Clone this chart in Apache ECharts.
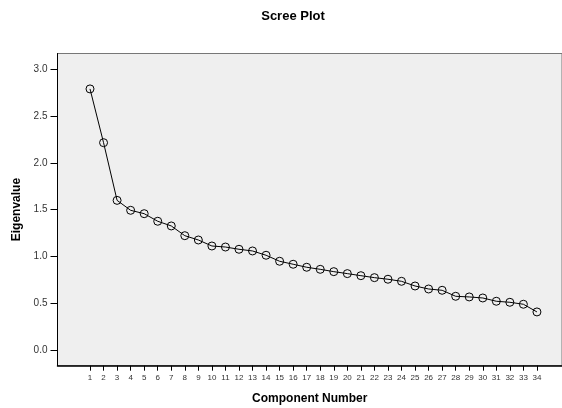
<!DOCTYPE html>
<html>
<head>
<meta charset="utf-8">
<script src="https://cdn.jsdelivr.net/npm/echarts@6/dist/echarts.min.js"></script>
<style>html,body{margin:0;padding:0;background:#fff}#c{width:562px;height:408px}</style>
</head>
<body>
<div id="c"></div>
<script>
var components = [1,2,3,4,5,6,7,8,9,10,11,12,13,14,15,16,17,18,19,20,21,22,23,24,25,26,27,28,29,30,31,32,33,34];
var eigenvalues = [2.79,2.216,1.60,1.494,1.458,1.377,1.327,1.223,1.177,1.113,1.102,1.078,1.060,1.014,0.950,0.918,0.886,0.864,0.839,0.818,0.796,0.775,0.758,0.736,0.686,0.654,0.640,0.576,0.569,0.558,0.523,0.512,0.491,0.409];
var yTicks = [0,0.5,1,1.5,2,2.5,3];

var chart = echarts.init(document.getElementById('c'), null, {renderer:'canvas'});
var font = '"Liberation Sans", Arial, sans-serif';
chart.setOption({
  animation:false,
  backgroundColor:'#ffffff',
  title:{text:'Scree Plot', left:288, top:5, textAlign:'center',
    textStyle:{fontFamily:font, fontSize:13, fontWeight:'bold', color:'#000'}},
  grid:{left:57.5, top:53.5, right:0, bottom:42.3, containLabel:false, outerBoundsMode:'none',
    show:true, backgroundColor:'#efefef', borderColor:'#777', borderWidth:1},
  xAxis:{type:'value', min:-1.4, max:35.85,
    name:'Component Number', nameLocation:'middle', nameGap:27,
    nameTextStyle:{fontFamily:font, fontSize:12, fontWeight:'bold', color:'#000'},
    axisLine:{show:true, onZero:false, lineStyle:{color:'#000', width:1.5}},
    axisTick:{show:true, length:5, customValues:components, lineStyle:{color:'#000'}},
    axisLabel:{customValues:components, fontFamily:font, fontSize:8, color:'#333', margin:8},
    splitLine:{show:false}},
  yAxis:{type:'value', min:-0.165, max:3.168,
    name:'Eigenvalue', nameLocation:'middle', nameGap:34, nameRotate:90,
    nameTextStyle:{fontFamily:font, fontSize:12, fontWeight:'bold', color:'#000'},
    axisLine:{show:true, onZero:false, lineStyle:{color:'#000', width:1}},
    axisTick:{show:true, length:7, customValues:yTicks, lineStyle:{color:'#000'}},
    axisLabel:{customValues:yTicks, fontFamily:font, fontSize:10, color:'#333', margin:10,
      formatter:function(v){return v.toFixed(1);}},
    splitLine:{show:false}},
  series:[{type:'line', data:components.map(function(c,i){return [c, eigenvalues[i]];}),
    symbol:'circle', symbolSize:8, showAllSymbol:true,
    lineStyle:{color:'#000', width:1},
    itemStyle:{color:'rgba(0,0,0,0)', borderColor:'#000', borderWidth:1}}]
});
</script>
</body>
</html>
